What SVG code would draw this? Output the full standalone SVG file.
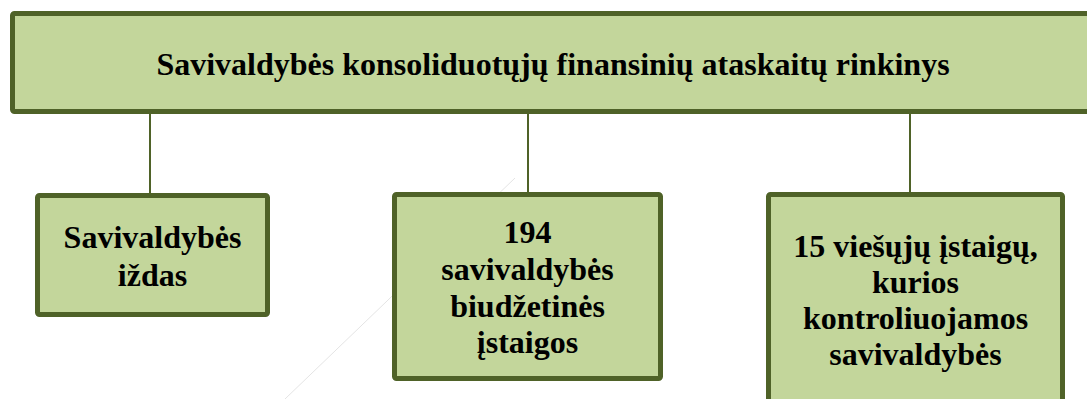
<svg xmlns="http://www.w3.org/2000/svg" width="1087" height="399" viewBox="0 0 1087 399">
<style>
.box{fill:#c3d69b;stroke:#4f6228;stroke-width:5;}
.t{font-family:"Liberation Serif","Times New Roman",serif;font-weight:bold;font-size:32px;fill:#000;text-anchor:middle;}
.c{stroke:#4f6228;stroke-width:2;fill:none;}
</style>
<rect width="1087" height="399" fill="#ffffff"/>
<line x1="285" y1="399" x2="515" y2="178" stroke="#e4e4e4" stroke-width="1"/>
<g id="connectors">
<line class="c" x1="150" y1="113" x2="150" y2="194"/>
<line class="c" x1="528" y1="113" x2="528" y2="193"/>
<line class="c" x1="910" y1="113" x2="910" y2="193"/>
</g>
<g id="root">
<rect class="box" x="12.5" y="13.5" width="1080" height="98" rx="2"/>
<text class="t" x="553" y="75">Savivaldybės konsoliduotųjų finansinių ataskaitų rinkinys</text>
</g>
<g id="node-izdas">
<rect class="box" x="37.5" y="195.5" width="230" height="119" rx="2"/>
<text class="t" x="152.5" y="248">Savivaldybės</text>
<text class="t" x="152.5" y="286">iždas</text>
</g>
<g id="node-biudzetines">
<rect class="box" x="394.5" y="194.5" width="266" height="184" rx="2"/>
<text class="t" x="527.5" y="243">194</text>
<text class="t" x="527.5" y="280">savivaldybės</text>
<text class="t" x="527.5" y="317">biudžetinės</text>
<text class="t" x="527.5" y="353">įstaigos</text>
</g>
<g id="node-viesosios">
<rect class="box" x="768.5" y="194.5" width="294" height="230" rx="2"/>
<text class="t" x="915.5" y="257">15 viešųjų įstaigų,</text>
<text class="t" x="915.5" y="293">kurios</text>
<text class="t" x="915.5" y="329">kontroliuojamos</text>
<text class="t" x="915.5" y="365">savivaldybės</text>
</g>
</svg>
